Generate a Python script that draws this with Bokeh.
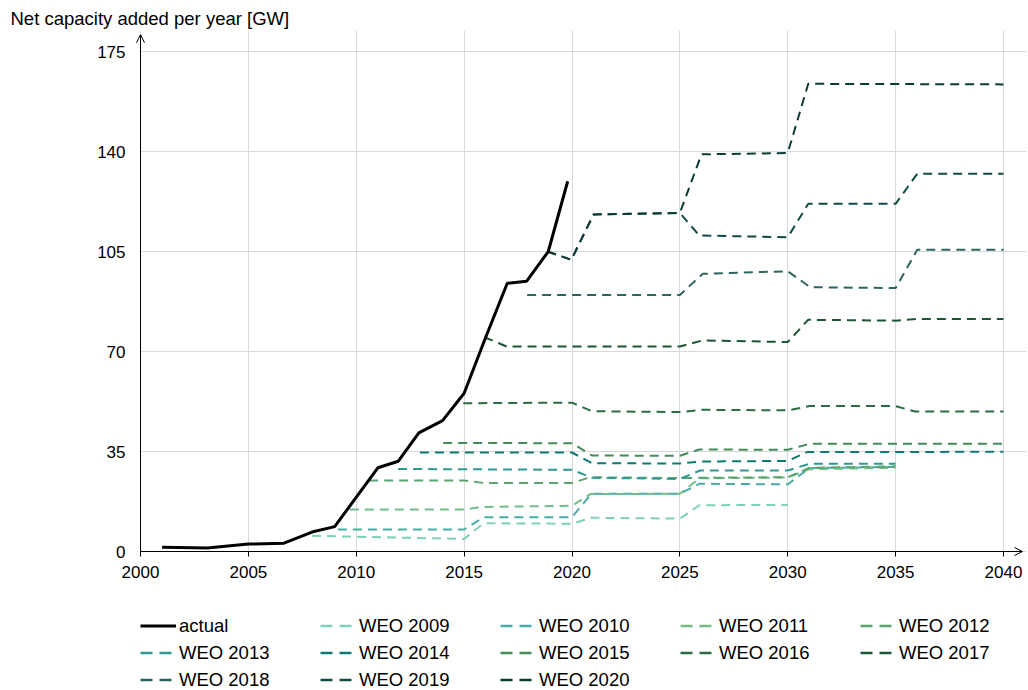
from bokeh.plotting import figure
from bokeh.layouts import column
from bokeh.models import Range1d, FixedTicker, Legend, LegendItem, Arrow, OpenHead, Title
from bokeh.embed import file_html
from bokeh.resources import INLINE

# ---------------- data ----------------
actual_years = [2001.0, 2003.1, 2005.0, 2006.65, 2007.95, 2009.0, 2011.0, 2011.95,
                2012.9, 2014.0, 2015.0, 2016.0, 2017.0, 2017.9, 2018.9, 2019.8]
actual_gw = [1.5, 1.2, 2.6, 2.9, 6.8, 8.7, 29.3, 31.6,
             41.5, 45.8, 55.4, 75.0, 93.9, 94.6, 105.0, 129.6]

weo2009_years = [2007.95, 2015.0, 2015.9, 2020.0, 2020.9, 2025.0, 2025.9, 2030.0]
weo2009_gw = [5.5, 4.4, 9.9, 9.7, 11.8, 11.5, 16.2, 16.3]

weo2010_years = [2009.15, 2015.0, 2015.9, 2020.0, 2020.9, 2025.0, 2025.9, 2030.0, 2031.0, 2035.0]
weo2010_gw = [7.7, 7.7, 12.0, 12.0, 20.2, 20.2, 23.7, 23.5, 29.2, 29.6]

weo2011_years = [2009.7, 2015.0, 2015.8, 2020.0, 2020.85, 2025.0, 2025.9, 2030.0, 2031.0, 2035.0]
weo2011_gw = [14.7, 14.7, 15.6, 16.0, 20.1, 20.2, 25.6, 25.9, 28.8, 29.3]

weo2012_years = [2010.6, 2015.0, 2015.9, 2020.0, 2020.85, 2025.0, 2025.9, 2030.0, 2031.0, 2035.0]
weo2012_gw = [24.85, 24.85, 24.0, 24.0, 26.0, 25.7, 25.8, 26.0, 29.3, 29.8]

weo2013_years = [2011.94, 2020.0, 2020.93, 2025.0, 2025.94, 2030.0, 2031.0, 2035.0]
weo2013_gw = [28.9, 28.6, 25.8, 25.4, 28.35, 28.35, 30.7, 30.7]

weo2014_years = [2012.95, 2020.0, 2020.93, 2025.0, 2025.94, 2030.0, 2030.9, 2040.0]
weo2014_gw = [34.65, 34.65, 30.9, 30.8, 31.5, 31.7, 34.8, 34.9]

weo2015_years = [2014.03, 2020.0, 2020.93, 2025.0, 2025.9, 2030.0, 2031.0, 2040.0]
weo2015_gw = [38.0, 37.9, 33.6, 33.5, 35.7, 35.6, 37.7, 37.7]

weo2016_years = [2014.96, 2020.0, 2020.93, 2025.0, 2026.0, 2030.0, 2031.0, 2035.0, 2035.9, 2040.0]
weo2016_gw = [51.9, 52.1, 49.1, 48.8, 49.6, 49.4, 50.9, 50.9, 49.0, 49.0]

weo2017_years = [2015.94, 2016.97, 2025.0, 2026.06, 2030.0, 2030.95, 2035.0, 2036.0, 2040.0]
weo2017_gw = [75.0, 71.75, 71.75, 73.9, 73.3, 81.1, 80.8, 81.4, 81.4]

weo2018_years = [2017.92, 2025.0, 2026.06, 2030.0, 2031.04, 2035.0, 2036.0, 2040.0]
weo2018_gw = [89.8, 89.8, 97.2, 98.1, 92.5, 92.2, 105.6, 105.6]

weo2019_years = [2018.86, 2019.97, 2021.0, 2025.0, 2025.9, 2030.0, 2030.95, 2035.0, 2036.0, 2040.0]
weo2019_gw = [105.0, 102.1, 118.0, 118.5, 110.6, 110.0, 121.7, 121.7, 132.2, 132.2]

weo2020_years = [2018.86, 2019.97, 2021.0, 2025.0, 2026.0, 2030.0, 2030.95, 2040.0]
weo2020_gw = [105.0, 102.1, 118.0, 118.5, 139.0, 139.5, 163.7, 163.5]

series_names = ["WEO 2009", "WEO 2010", "WEO 2011", "WEO 2012", "WEO 2013", "WEO 2014",
                "WEO 2015", "WEO 2016", "WEO 2017", "WEO 2018", "WEO 2019", "WEO 2020"]
series_years = [weo2009_years, weo2010_years, weo2011_years, weo2012_years, weo2013_years,
                weo2014_years, weo2015_years, weo2016_years, weo2017_years, weo2018_years,
                weo2019_years, weo2020_years]
series_gw = [weo2009_gw, weo2010_gw, weo2011_gw, weo2012_gw, weo2013_gw, weo2014_gw,
             weo2015_gw, weo2016_gw, weo2017_gw, weo2018_gw, weo2019_gw, weo2020_gw]
series_colors = ["#7dd0bb", "#4aaca6", "#72bd88", "#5aa56f", "#2f9893", "#0e7a71",
                 "#438b58", "#2b6d40", "#1c5532", "#2c6560", "#114b45", "#0c3b35"]

x_ticks = [2000, 2005, 2010, 2015, 2020, 2025, 2030, 2035, 2040]
y_ticks = [0, 35, 70, 105, 140, 175]
y_title = "Net capacity added per year [GW]"

# ranges (a few pixels of room around the axes so the arrow heads are not clipped)
X_AXIS_AT, Y_AXIS_AT = 2000, 0
X_START, X_END = 1999.768, 2041.066
Y_START, Y_END = -1.75, 182.36
X_ARROW_TIP, Y_ARROW_TIP = 2040.88, 180.9
FONT = "Liberation Sans"
NAN = float("nan")

# ---------------- main figure ----------------
p = figure(width=1028, height=590, output_backend="svg", toolbar_location=None,
           x_range=Range1d(X_START, X_END), y_range=Range1d(Y_START, Y_END),
           min_border_left=135, min_border_right=2, min_border_top=30, min_border_bottom=34)
p.outline_line_color = None
p.background_fill_color = "white"

for ax in (p.xaxis[0], p.yaxis[0]):
    ax.axis_line_color = None
    ax.major_label_text_font = FONT
    ax.major_label_text_font_size = "17px"
    ax.major_label_text_color = "#000000"
    ax.minor_tick_line_color = None

p.xaxis.ticker = FixedTicker(ticks=x_ticks)
p.xaxis.major_tick_out = 0
p.xaxis.major_tick_in = 5
p.xaxis.major_tick_line_color = "black"
p.xaxis.major_label_standoff = 9

p.yaxis.ticker = FixedTicker(ticks=y_ticks)
p.yaxis.major_tick_out = 0
p.yaxis.major_tick_in = 0
p.yaxis.major_tick_line_color = None
p.yaxis.major_label_standoff = 10

p.xgrid.ticker = FixedTicker(ticks=x_ticks)
p.ygrid.ticker = FixedTicker(ticks=y_ticks)
p.xgrid.grid_line_color = "#d9d9d9"
p.ygrid.grid_line_color = "#d9d9d9"
p.xgrid.cross_bounds = (Y_AXIS_AT, Y_END)
p.ygrid.cross_bounds = (X_AXIS_AT, X_END)

# axis lines with open arrow heads
p.add_layout(Arrow(end=OpenHead(size=8, line_width=1, line_color="black"),
                   x_start=X_AXIS_AT, y_start=Y_AXIS_AT, x_end=X_AXIS_AT, y_end=Y_ARROW_TIP,
                   line_color="black", line_width=1))
p.add_layout(Arrow(end=OpenHead(size=8, line_width=1, line_color="black"),
                   x_start=X_AXIS_AT, y_start=Y_AXIS_AT, x_end=X_ARROW_TIP, y_end=Y_AXIS_AT,
                   line_color="black", line_width=1))

for xs, ys, col in zip(series_years, series_gw, series_colors):
    p.line(xs, ys, line_color=col, line_width=2, line_dash="9 6")
p.line(actual_years, actual_gw, line_color="black", line_width=3)

p.add_layout(Title(text=y_title, align="left", offset=-125, standoff=4,
                   text_font=FONT, text_font_size="18.5px", text_font_style="normal",
                   text_color="#000000"), "above")

# ---------------- legend strip (separate figure below the chart) ----------------
# its frame is aligned with the main chart's frame by the column layout
pl = figure(width=1028, height=100, output_backend="svg", toolbar_location=None,
            x_range=Range1d(0, 1), y_range=Range1d(0, 1),
            x_axis_location=None, y_axis_location=None,
            min_border=0, min_border_left=135, min_border_right=2,
            min_border_top=0, min_border_bottom=0)
pl.outline_line_color = None
pl.xgrid.visible = False
pl.ygrid.visible = False
pl.background_fill_color = "white"

leg_actual = pl.line([NAN], [NAN], line_color="black", line_width=3)
items = [LegendItem(label="actual", renderers=[leg_actual])]
for name, col in zip(series_names, series_colors):
    r = pl.line([NAN], [NAN], line_color=col, line_width=2.5, line_dash="12 7")
    items.append(LegendItem(label=name, renderers=[r]))

legend = Legend(items=items, location=(5, -3), orientation="horizontal", ncols=5,
                glyph_width=36, glyph_height=27, label_height=27, label_width=141,
                label_standoff=3, spacing=0, padding=0, margin=0,
                border_line_color=None, background_fill_alpha=0,
                label_text_font=FONT, label_text_font_size="18.5px",
                label_text_color="#000000")
pl.add_layout(legend, "center")

layout = column(p, pl, spacing=0)
open("out.html", "w").write(file_html(layout, INLINE))
